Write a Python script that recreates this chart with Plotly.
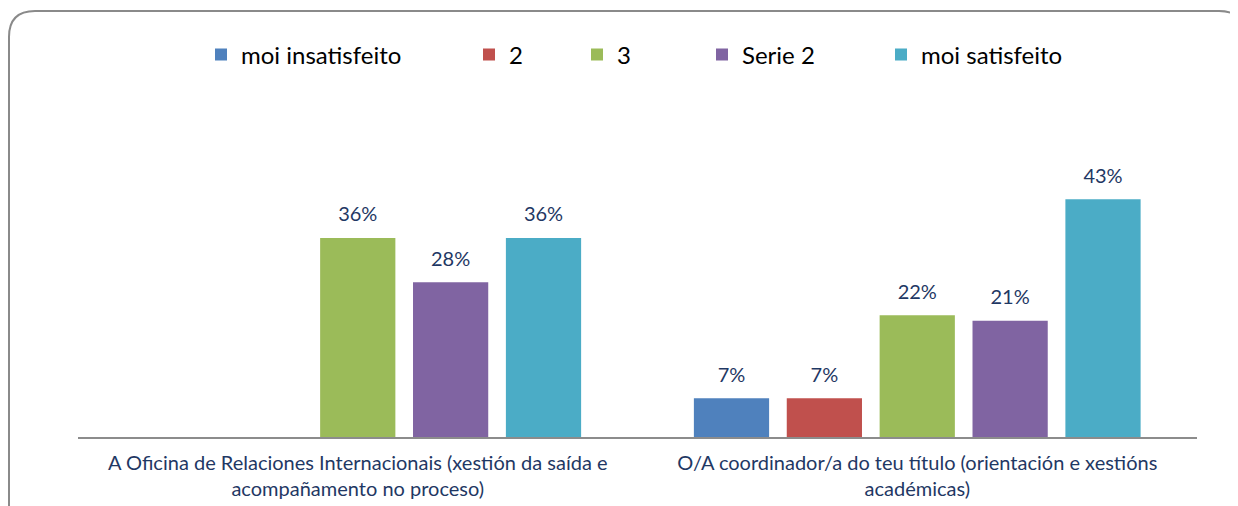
import plotly.graph_objects as go

categories = [
    "A Oficina de Relaciones Internacionais (xestión da saída e<br>acompañamento no proceso)",
    "O/A coordinador/a do teu título (orientación e xestións<br>académicas)",
]
series_names = ["moi insatisfeito", "2", "3", "Serie 2", "moi satisfeito"]
moi_insatisfeito = [0.0, 0.07]
serie_2_val = [0.0, 0.07]
serie_3_val = [0.36, 0.22]
serie_serie2 = [0.28, 0.21]
moi_satisfeito = [0.36, 0.43]
colors = ["#4F81BD", "#C0504D", "#9BBB59", "#8064A2", "#4BACC6"]

all_values = [moi_insatisfeito, serie_2_val, serie_3_val, serie_serie2, moi_satisfeito]

W, H = 1238, 506
O = 8  # page body offset
SL, SR, ST, SB = 78, 1197, 105, 437
ML, MT = SL - O, ST - O
MR = W - (SR - O)
MB = H - (SB - O)
PW, PH = W - ML - MR, H - MT - MB

def px_x(p):
    return (p - O - ML) / PW

def px_y(p):
    return (H - MB - (p - O)) / PH

legend_px = [221, 489, 597, 722, 901]
BARGAP = 0.17

fig = go.Figure()
for i, (name, vals, col) in enumerate(zip(series_names, all_values, colors)):
    fig.add_trace(go.Bar(
        x=categories, y=vals, name=name,
        marker=dict(color=col, line=dict(width=0)),
        offsetgroup=f"g{i}", alignmentgroup="bars",
        legend="legend" if i == 0 else f"legend{i+1}",
        hoverinfo="skip",
    ))
for i, (name, vals) in enumerate(zip(series_names, all_values)):
    texts = ["" if v == 0 else f"{round(v*100)}%" for v in vals]
    fig.add_trace(go.Scatter(
        x=categories, y=vals, mode="markers+text", text=texts,
        textposition="top center",
        textfont=dict(color="#1F3864", size=20, family="Lato"),
        marker=dict(size=17, color="rgba(0,0,0,0)"),
        offsetgroup=f"s{i}", alignmentgroup="labels",
        showlegend=False, hoverinfo="skip", cliponaxis=False,
    ))

layout_legends = {}
for i, lp in enumerate(legend_px):
    key = "legend" if i == 0 else f"legend{i+1}"
    layout_legends[key] = dict(
        x=px_x(lp - 20), y=px_y(55), xanchor="left", yanchor="middle",
        orientation="h", font=dict(size=24, color="#000000", family="Lato"),
        bgcolor="rgba(0,0,0,0)", itemwidth=30,
    )

r = 26
x0, y0, x1, y1 = 9, 11, 1245, 540
path = (
    f"M {px_x(x0)},{px_y(y1)} L {px_x(x0)},{px_y(y0 + r)} "
    f"Q {px_x(x0)},{px_y(y0)} {px_x(x0 + r)},{px_y(y0)} "
    f"L {px_x(x1 - r)},{px_y(y0)} "
    f"Q {px_x(x1)},{px_y(y0)} {px_x(x1)},{px_y(y0 + r)} "
    f"L {px_x(x1)},{px_y(y1)}"
)

fig.update_layout(
    width=W, height=H,
    margin=dict(l=ML, r=MR, t=MT, b=MB),
    paper_bgcolor="white", plot_bgcolor="white",
    barmode="group", bargap=BARGAP, bargroupgap=0.19,
    scattermode="group", scattergap=BARGAP,
    showlegend=True,
    font=dict(family="Lato", color="#1F3864"),
    xaxis=dict(showline=True, linecolor="#8C8C8C", linewidth=2, ticks="",
               tickfont=dict(size=20, color="#1F3864", family="Lato"),
               ticklabelstandoff=7,
               showgrid=False, zeroline=False),
    yaxis=dict(range=[0, PH / 553.0], visible=False, showgrid=False, zeroline=False),
    shapes=[dict(type="path", path=path, xref="paper", yref="paper",
                 line=dict(color="#8A8A8A", width=2), fillcolor="rgba(0,0,0,0)",
                 layer="above")],
    **layout_legends,
)

fig.write_html("out.html")
